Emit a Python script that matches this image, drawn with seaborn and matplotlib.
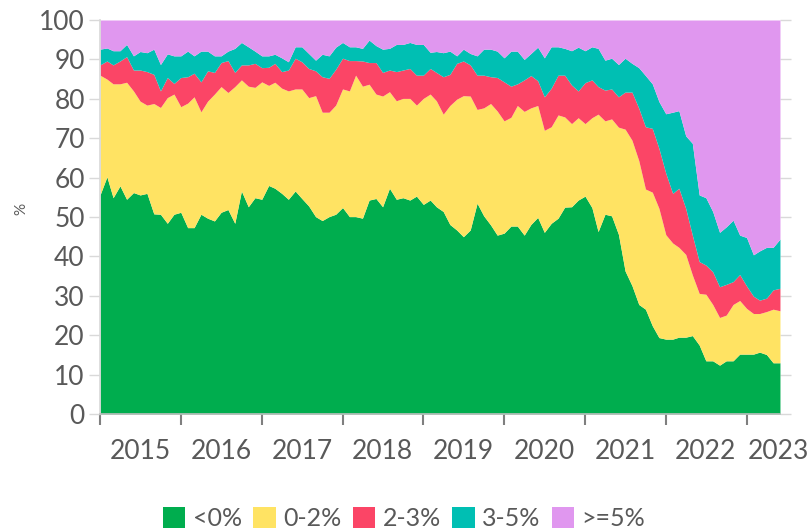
import numpy as np
import pandas as pd
import seaborn as sns
import matplotlib.pyplot as plt
import matplotlib.dates as mdates

# Monthly observations, Jan 2015 - Jun 2023
months = pd.date_range('2015-01-01', periods=102, freq='MS')

# Cumulative shares (%): share below 0%, below 2%, below 3%, below 5%
below_0 = [55.6, 60.2, 54.9, 57.9, 54.5, 56.2, 55.6, 56.0, 50.8, 50.7, 48.4, 50.7,
           51.2, 47.3, 47.3, 50.7, 49.7, 49.0, 51.2, 51.9, 48.4, 56.6, 52.6, 54.9,
           54.5, 58.0, 57.3, 56.0, 54.5, 56.6, 54.7, 52.8, 50.1, 49.1, 50.1, 50.7,
           52.4, 50.1, 50.1, 49.7, 54.3, 54.7, 52.6, 57.3, 54.5, 54.9, 54.3, 55.3,
           53.2, 54.3, 52.6, 51.4, 48.1, 46.7, 45.0, 46.7, 53.5, 50.3, 48.0, 45.4,
           45.9, 47.7, 47.7, 45.4, 48.1, 49.9, 46.1, 48.4, 49.7, 52.5, 52.6, 54.3,
           55.3, 52.4, 46.3, 50.7, 50.3, 45.6, 36.3, 32.6, 27.8, 26.6, 22.4, 19.4,
           19.0, 19.0, 19.5, 19.5, 19.9, 17.5, 13.5, 13.5, 12.4, 13.5, 13.5, 15.2,
           15.2, 15.2, 15.7, 15.1, 13.0, 13.0]
below_2 = [86.0, 85.0, 83.8, 83.8, 84.2, 82.0, 79.4, 78.4, 78.8, 77.8, 80.3, 81.2,
           78.0, 78.9, 80.5, 76.7, 79.4, 81.2, 83.1, 81.6, 83.1, 84.8, 83.2, 82.9,
           84.3, 83.4, 84.2, 82.7, 82.0, 82.5, 82.5, 80.3, 80.8, 76.6, 76.6, 78.4,
           82.5, 82.0, 86.0, 83.2, 83.7, 81.2, 80.7, 81.8, 79.5, 80.1, 80.1, 78.4,
           80.1, 81.2, 79.5, 76.1, 78.3, 79.9, 80.8, 80.7, 77.3, 77.7, 78.8, 76.9,
           74.4, 75.3, 78.3, 76.8, 77.7, 78.3, 72.0, 72.9, 75.9, 75.4, 73.7, 75.2,
           73.7, 75.2, 76.1, 74.4, 74.9, 72.8, 72.3, 69.5, 64.3, 57.1, 56.3, 52.2,
           45.5, 43.4, 42.3, 40.5, 35.3, 30.6, 30.4, 27.8, 24.5, 25.1, 27.8, 28.8,
           26.8, 25.5, 25.5, 26.0, 26.6, 26.2]
below_3 = [88.6, 89.6, 88.6, 89.6, 90.7, 87.3, 87.3, 86.9, 86.2, 82.0, 85.4, 83.9,
           85.4, 85.6, 86.5, 84.3, 87.1, 86.7, 89.2, 89.7, 86.7, 88.6, 88.6, 89.0,
           87.9, 88.0, 89.0, 86.9, 87.3, 90.3, 89.4, 87.7, 87.1, 85.6, 85.2, 87.5,
           90.3, 89.7, 89.7, 89.6, 89.2, 89.2, 86.7, 87.3, 86.9, 87.3, 87.7, 86.0,
           86.0, 87.7, 86.7, 85.6, 86.2, 89.0, 89.6, 88.6, 86.0, 86.0, 85.6, 85.4,
           84.3, 83.2, 83.8, 84.8, 85.9, 84.6, 80.5, 82.7, 86.0, 86.0, 83.5, 82.0,
           84.1, 84.8, 83.1, 82.2, 82.5, 80.5, 81.7, 81.7, 77.6, 72.9, 72.5, 67.4,
           61.1, 56.0, 57.3, 52.2, 45.4, 38.7, 37.8, 36.1, 32.3, 32.9, 33.6, 35.4,
           32.5, 29.9, 28.9, 29.4, 31.5, 31.9]
below_5 = [92.6, 92.9, 92.2, 92.2, 93.8, 90.9, 92.0, 91.7, 92.6, 88.7, 91.4, 90.9,
           90.9, 92.1, 90.9, 92.1, 92.1, 90.9, 90.9, 92.1, 92.8, 94.3, 93.2, 92.1,
           90.9, 90.9, 91.3, 90.4, 89.4, 93.2, 93.2, 91.5, 89.8, 91.3, 90.9, 93.1,
           94.3, 93.2, 93.2, 92.8, 94.9, 93.5, 92.6, 92.8, 93.8, 93.8, 94.3, 93.8,
           93.8, 91.8, 92.0, 91.7, 92.1, 90.9, 92.6, 91.5, 90.9, 92.6, 92.6, 92.1,
           90.4, 92.1, 92.1, 90.0, 91.5, 93.1, 90.4, 93.2, 93.2, 92.8, 92.2, 93.1,
           92.2, 93.2, 92.8, 89.8, 90.3, 88.7, 90.3, 89.0, 87.9, 85.9, 83.8, 79.3,
           76.2, 76.6, 77.0, 70.6, 68.7, 55.6, 54.9, 51.4, 46.1, 47.5, 49.2, 45.4,
           44.8, 40.4, 41.4, 42.3, 42.3, 44.4]

labels = ['<0%', '0-2%', '2-3%', '3-5%', '>=5%']
colors = ['#00ad4e', '#ffe363', '#fb4566', '#00bfb3', '#e097ef']
year_labels = ['2015', '2016', '2017', '2018', '2019', '2020', '2021', '2022', '2023']
year_label_pos = pd.to_datetime(['2015-07-01', '2016-07-01', '2017-07-01', '2018-07-01',
                                 '2019-07-01', '2020-07-01', '2021-07-01', '2022-07-01',
                                 '2023-05-25'])

sns.set_theme(style='white')
plt.rcParams['font.family'] = ['Lato', 'DejaVu Sans']
text_col = '#595959'

fig = plt.figure(figsize=(8.08, 5.29), dpi=100)
ax = fig.add_axes([0.1238, 0.2174, 0.8415, 0.7448])

levels = [np.zeros(len(months)), np.array(below_0), np.array(below_2),
          np.array(below_3), np.array(below_5), np.full(len(months), 100.0)]
for k in range(5):
    ax.fill_between(months, levels[k], levels[k + 1], color=colors[k],
                    label=labels[k], linewidth=0)

ax.set_xlim(months[0], months[-1])
ax.set_ylim(0, 100)
ax.set_yticks(np.arange(0, 101, 10))

# year boundaries as tick marks, year names centred between them
ax.xaxis.set_major_locator(mdates.YearLocator())
ax.xaxis.set_major_formatter(plt.NullFormatter())
ax.set_xticks(year_label_pos, minor=True)
ax.set_xticklabels(year_labels, minor=True)
ax.tick_params(axis='x', which='major', direction='out', length=8, width=1.5,
               color='#7f7f7f', bottom=True)
ax.tick_params(axis='x', which='minor', length=0, pad=18, labelsize=19,
               labelcolor=text_col)
ax.tick_params(axis='y', direction='out', length=8, width=1, color='#d9d9d9',
               left=True, right=True, labelsize=19, labelcolor=text_col, pad=3)

for side in ['top', 'right']:
    ax.spines[side].set_visible(False)
ax.spines['left'].set_color('#d9d9d9')
ax.spines['bottom'].set_color('#bfbfbf')
ax.spines['bottom'].set_linewidth(1.2)

ax.set_ylabel('%', fontsize=11, color=text_col)
ax.yaxis.set_label_coords(-0.105, 0.52)

fig.legend(loc='lower center', bbox_to_anchor=(0.5, -0.045), ncol=5, frameon=False,
           fontsize=18, handlelength=0.9, handleheight=0.9, handletextpad=0.3,
           columnspacing=0.45, labelcolor=text_col)

fig.savefig('out.png', dpi=100, facecolor='white')
